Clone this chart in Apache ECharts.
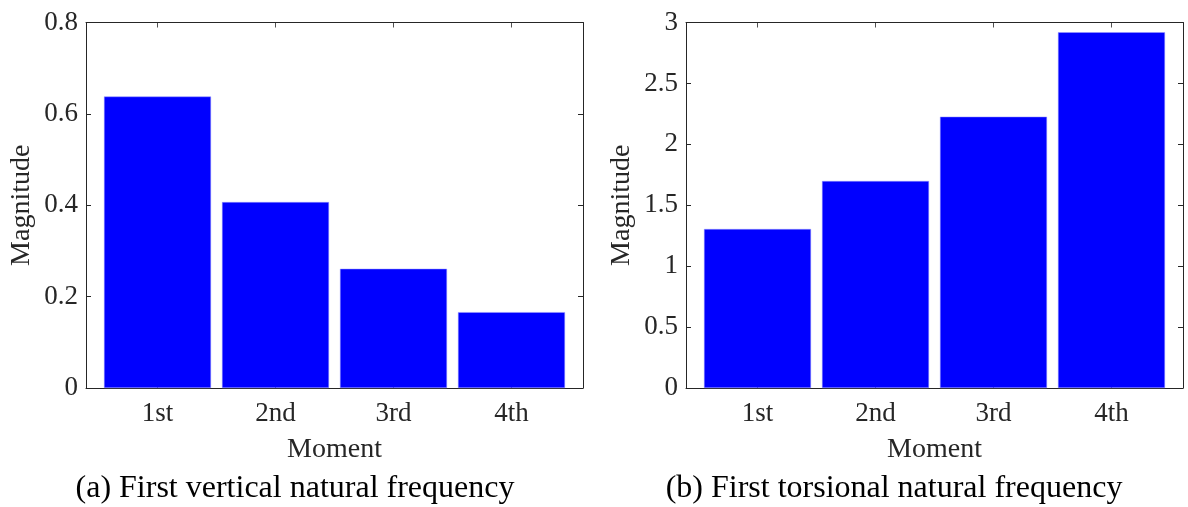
<!DOCTYPE html>
<html>
<head>
<meta charset="utf-8">
<script src="https://cdn.jsdelivr.net/npm/echarts@6/dist/echarts.min.js"></script>
<style>
    html, body { margin: 0; padding: 0; background: #fff; }
    #chart { width: 1188px; height: 507px; }
</style>
</head>
<body>
<div id="chart"></div>
<script>
'use strict';

// data
var moments = ['1st', '2nd', '3rd', '4th'];
var verticalFreq = [0.638, 0.407, 0.261, 0.166];
var torsionalFreq = [1.305, 1.699, 2.227, 2.92];
var captions = ['(a) First vertical natural frequency', '(b) First torsional natural frequency'];
var yMax = [0.8, 3];
var yStep = [0.2, 0.5];

var font = 'Liberation Serif';
var ink = '#262626';
var positions = [1, 2, 3, 4];

function xAxes(grid, top) {
    return {
        type: 'value',
        gridIndex: grid,
        position: top ? 'top' : 'bottom',
        min: 0.394,
        max: 4.606,
        splitNumber: 4,
        name: top ? '' : 'Moment',
        nameLocation: 'middle',
        nameGap: 48,
        nameTextStyle: { fontFamily: font, fontSize: 28, color: ink },
        axisLine: { show: true, onZero: false, lineStyle: { color: ink, width: 1 } },
        axisTick: { show: !top, inside: true, length: 5, lineStyle: { color: ink } },
        axisLabel: {
            show: !top,
            margin: 12,
            fontFamily: font,
            fontSize: 27,
            color: ink,
            showMinLabel: false,
            showMaxLabel: false,
            formatter: function (v) {
                var k = Math.round(v);
                return Math.abs(v - k) < 1e-6 && moments[k - 1] ? moments[k - 1] : '';
            }
        },
        splitLine: { show: false }
    };
}

function yAxes(grid, right, max, step) {
    return {
        type: 'value',
        gridIndex: grid,
        position: right ? 'right' : 'left',
        min: 0,
        max: max,
        interval: step,
        name: right ? '' : 'Magnitude',
        nameLocation: 'middle',
        nameGap: 50,
        nameTextStyle: { fontFamily: font, fontSize: 28, color: ink },
        axisLine: { show: true, onZero: false, lineStyle: { color: ink, width: 1 } },
        axisTick: { show: true, inside: true, length: 5, lineStyle: { color: ink } },
        axisLabel: { show: !right, margin: 8, fontFamily: font, fontSize: 27, color: ink },
        splitLine: { show: false }
    };
}

function pairs(values) {
    return values.map(function (v, i) { return [positions[i], v]; });
}

function bars(axis, values) {
    return {
        type: 'bar',
        xAxisIndex: axis,
        yAxisIndex: axis,
        barWidth: 107,
        itemStyle: { color: '#0000ff', borderColor: '#9999ff', borderWidth: 0.5 },
        data: pairs(values)
    };
}

// small tick marks under the top frame line, one per bar position
function topTicks(axis, max) {
    return {
        type: 'scatter',
        xAxisIndex: axis,
        yAxisIndex: axis,
        silent: true,
        clip: false,
        symbol: 'rect',
        symbolSize: [1, 5],
        symbolOffset: [0, 2.5],
        itemStyle: { color: ink },
        data: positions.map(function (p) { return [p, max]; })
    };
}

var myChart = echarts.init(document.getElementById('chart'));

var option = {
    animation: false,
    grid: [
        { left: 86, right: 605, top: 22.5, bottom: 119 },
        { left: 686, right: 5, top: 22.5, bottom: 119 }
    ],
    xAxis: [xAxes(0, false), xAxes(0, true), xAxes(1, false), xAxes(1, true)],
    yAxis: [yAxes(0, false, yMax[0], yStep[0]), yAxes(0, true, yMax[0], yStep[0]),
            yAxes(1, false, yMax[1], yStep[1]), yAxes(1, true, yMax[1], yStep[1])],
    series: [
        bars(0, verticalFreq),
        bars(2, torsionalFreq),
        topTicks(0, yMax[0]),
        topTicks(2, yMax[1])
    ],
    graphic: [
        {
            type: 'text', x: 295, y: 489,
            style: { text: captions[0], fontFamily: font, fontSize: 32, fill: '#000', textAlign: 'center', textVerticalAlign: 'middle' }
        },
        {
            type: 'text', x: 894, y: 489,
            style: { text: captions[1], fontFamily: font, fontSize: 32, fill: '#000', textAlign: 'center', textVerticalAlign: 'middle' }
        }
    ]
};

myChart.setOption(option);
window.onresize = function () {
    myChart.resize();
};
</script>
</body>
</html>
